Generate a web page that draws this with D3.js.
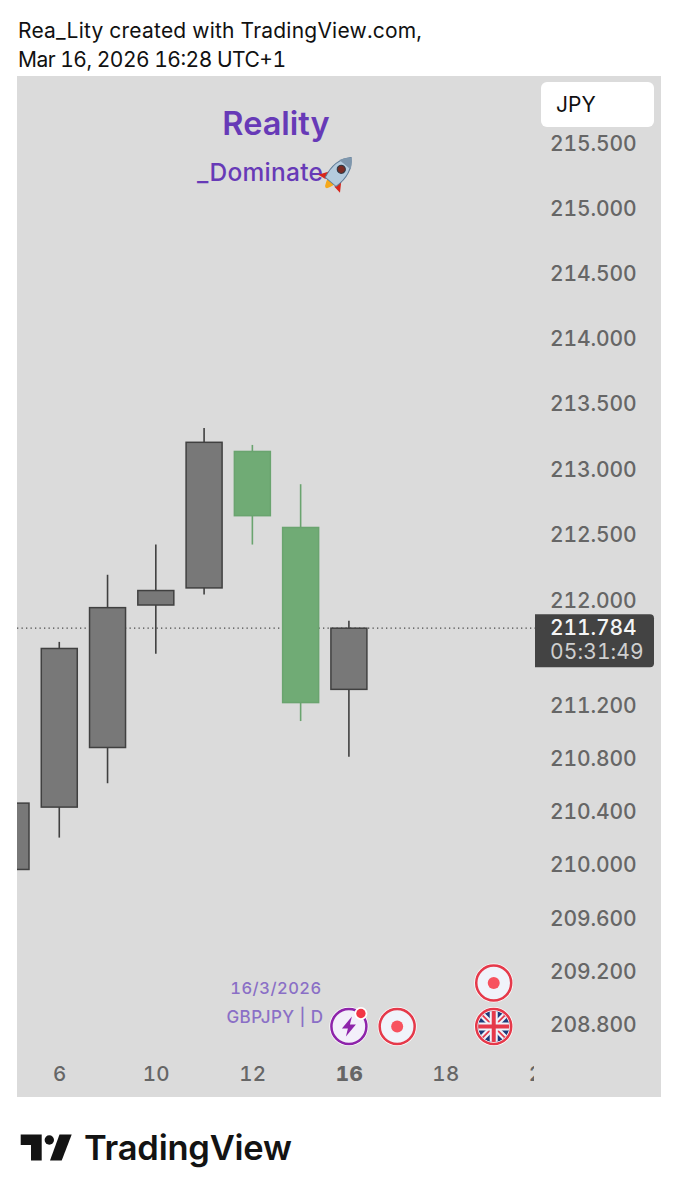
<!DOCTYPE html>
<html><head><meta charset="utf-8">
<script src="https://cdn.jsdelivr.net/npm/d3@7"></script>
<style>html,body{margin:0;padding:0;background:#fff}svg{display:block}text{font-family:Inter,"Noto Sans",sans-serif;font-feature-settings:"tnum" 1}</style>
</head><body><div id="c"></div>
<script>
const days=[5,6,9,10,11,12,13,16,17,18,19,20];
const opens =[209.96,210.43,210.88,211.96,212.09,213.13,212.55,211.784];
const closes=[210.46,211.63,211.94,212.07,213.20,212.64,211.22,211.32];
const highs =[210.50,211.68,212.19,212.42,213.31,213.18,212.88,211.84];
const lows  =[209.90,210.20,210.61,211.59,212.04,212.42,211.08,210.81];
const candleColors=["g","g","g","g","g","t","t","g"];
const priceTicks=[215.5,215,214.5,214,213.5,213,212.5,212,211.2,210.8,210.4,210,209.6,209.2,208.8];
const timeTicks=[6,10,12,16,18,20];
const lastPrice=211.784, countdown="05:31:49";
const eventDays=[16,17,19,19];
const eventTypes=["bolt","dot","dot","flag"];
const eventRows=[0,0,1,0];

const svg=d3.select("#c").append("svg").attr("width",678).attr("height",1200);
const defs=svg.append("defs");
defs.append("clipPath").attr("id","plot").append("rect").attr("x",17).attr("y",76).attr("width",517).attr("height",1021);
defs.append("clipPath").attr("id","flagc").append("circle").attr("r",15.5);

// scales
const y=d3.scaleLog().domain([208.8,215.5]).range([1024,143]);
const x=d3.scaleLinear().domain([0,11]).range([11,542]);
const xd=d=>x(days.indexOf(d));

// header
const hdr=svg.append("g").attr("font-size",21).attr("fill","#111");
hdr.append("text").attr("x",18).attr("y",38).attr("textLength",404).text("Rea_Lity created with TradingView.com,");
hdr.append("text").attr("x",18).attr("y",67).attr("textLength",268).text("Mar 16, 2026 16:28 UTC+1");

// panel
svg.append("rect").attr("x",17).attr("y",76).attr("width",644).attr("height",1021).attr("fill","#dbdbdb");

// watermark
svg.append("text").attr("x",276).attr("y",135).attr("text-anchor","middle").attr("font-size",32.5).attr("font-weight",600).attr("fill","#673ab7").text("Reality");
svg.append("text").attr("x",197).attr("y",181).attr("font-size",24.5).attr("font-weight",500).attr("fill","#673ab7").attr("textLength",126).text("_Dominate");
// rocket (drawn as emoji is unavailable)
const r=svg.append("g").attr("transform","translate(339,172) rotate(40) scale(1.18)");
r.append("path").attr("d","M-6,4 L-12,13 L-5,12 Z M6,4 L12,13 L5,12 Z").attr("fill","#d8261c");
r.append("path").attr("d","M-4,10 Q0,25 4,10 Z").attr("fill","#f6a91b");
r.append("path").attr("d","M0,-16 Q10,-6 6,11 L-6,11 Q-10,-6 0,-16 Z").attr("fill","#b4cbdd").attr("stroke","#5f7c98").attr("stroke-width",.8);
r.append("path").attr("d","M0,-16 Q4.5,-12 6.3,-8 H-6.3 Q-4.5,-12 0,-16 Z").attr("fill","#7f97ad");
r.append("circle").attr("cy",-3).attr("r",3.4).attr("fill","#7a2b22").attr("stroke","#2f3a45").attr("stroke-width",1);

// last price line
svg.append("line").attr("x1",17).attr("x2",535).attr("y1",y(lastPrice)).attr("y2",y(lastPrice))
  .attr("stroke","#4a4a4a").attr("stroke-width",1.2).attr("stroke-dasharray","1.3 3.2");

// candles
const plot=svg.append("g").attr("clip-path","url(#plot)");
const cd=d3.range(opens.length);
const col=i=>candleColors[i]==="g"?{f:"#787878",s:"#404040"}:{f:"#70ab75",s:"#6aa46f"};
const cs=plot.selectAll("g.c").data(cd).join("g").attr("class","c");
cs.append("line").attr("x1",i=>x(i)).attr("x2",i=>x(i)).attr("y1",i=>y(highs[i])).attr("y2",i=>y(lows[i]))
  .attr("stroke",i=>col(i).s).attr("stroke-width",1.6);
cs.append("rect").attr("x",i=>x(i)-18).attr("width",36)
  .attr("y",i=>y(Math.max(opens[i],closes[i])))
  .attr("height",i=>Math.abs(y(opens[i])-y(closes[i])))
  .attr("fill",i=>col(i).f).attr("stroke",i=>col(i).s).attr("stroke-width",1.5);

// price axis
const ya=svg.append("g").attr("transform","translate(550,1)")
  .call(d3.axisRight(y).tickValues(priceTicks).tickSize(0).tickPadding(0).tickFormat(d3.format(".3f")));
ya.select(".domain").remove();
ya.selectAll("text").attr("x",0).attr("font-size",21).attr("letter-spacing","-.1").attr("fill","#666").attr("font-family","Inter").attr("font-weight",500);

// time axis
const xa=svg.append("g").attr("clip-path","url(#plot)").append("g").attr("transform","translate(0,1074)")
  .call(d3.axisBottom(x).tickValues(timeTicks.map(d=>days.indexOf(d))).tickSize(0).tickPadding(0).tickFormat(i=>days[i]));
xa.select(".domain").remove();
xa.selectAll("text").attr("dy",0).attr("y",7).attr("font-size",20.5).attr("letter-spacing",".4").attr("fill","#666").attr("font-family","Inter").attr("font-weight",d=>days[d]===16?800:500);

// JPY box
svg.append("rect").attr("x",541).attr("y",82).attr("width",113).attr("height",45).attr("rx",6).attr("fill","#fff");
svg.append("text").attr("x",556).attr("y",112).attr("font-size",21).attr("fill","#111").text("JPY");

// last price box
const ly=y(lastPrice);
svg.append("path").attr("d",`M535,${ly-14}H650q4,0 4,4V${ly+35}q0,4 -4,4H535Z`).attr("fill","#434343");
svg.append("text").attr("x",550).attr("y",ly+7).attr("font-size",21).attr("letter-spacing","-.1").attr("font-weight",500).attr("fill","#f5f5f5").text(d3.format(".3f")(lastPrice));
svg.append("text").attr("x",550).attr("y",ly+31).attr("font-size",21).attr("letter-spacing",".1").attr("fill","#cfcfcf").text(countdown);

// date/symbol labels
svg.append("text").attr("x",276).attr("y",994).attr("text-anchor","middle").attr("font-size",16.5).attr("letter-spacing",".5").attr("font-weight",500).attr("fill","#8a6fc6").text("16/3/2026");
svg.append("text").attr("x",275).attr("y",1023).attr("text-anchor","middle").attr("font-size",17).attr("letter-spacing",".4").attr("font-weight",500).attr("fill","#8a6fc6").text("GBPJPY | D");

// event icons
const rowY=[1026.5,983];
const ev=svg.selectAll("g.e").data(d3.range(eventDays.length)).join("g").attr("class","e")
  .attr("transform",i=>`translate(${xd(eventDays[i])},${rowY[eventRows[i]]})`);
ev.each(function(i){
  const g=d3.select(this),t=eventTypes[i];
  g.append("circle").attr("r",19.5).attr("fill","#fff");
  if(t==="dot"){
    g.append("circle").attr("r",17.5).attr("fill","#f0f3fa").attr("stroke","#e5394a").attr("stroke-width",2.5);
    g.append("circle").attr("r",6).attr("fill","#f7525f");
  }else if(t==="flag"){
    const f=g.append("g").attr("clip-path","url(#flagc)");
    f.append("circle").attr("r",16).attr("fill","#1f3a7a");
    f.append("path").attr("d","M-16,-16L16,16M16,-16L-16,16").attr("stroke","#f0f3fa").attr("stroke-width",6);
    f.append("path").attr("d","M-16,-16L16,16M16,-16L-16,16").attr("stroke","#e5394a").attr("stroke-width",1.8);
    f.append("path").attr("d","M0,-16V16M-16,0H16").attr("stroke","#f0f3fa").attr("stroke-width",8);
    f.append("path").attr("d","M0,-16V16M-16,0H16").attr("stroke","#e5394a").attr("stroke-width",4);
    g.append("circle").attr("r",17.5).attr("fill","none").attr("stroke","#e5394a").attr("stroke-width",2.5);
  }else{
    g.append("circle").attr("r",17.5).attr("fill","#f3effa").attr("stroke","#8e24aa").attr("stroke-width",2.5);
    g.append("path").attr("d","M3,-10L-7,2H-1L-3,10L7,-2H1Z").attr("fill","#8e24aa");
    g.append("circle").attr("cx",12).attr("cy",-13).attr("r",6.5).attr("fill","#fff");
    g.append("circle").attr("cx",12).attr("cy",-13).attr("r",4.7).attr("fill","#f23645");
  }
});

// logo
const lg=svg.append("g").attr("fill","#131313");
lg.append("path").attr("d","M20.7,1134.5H41.7V1160.5H31V1145H20.7Z");
lg.append("circle").attr("cx",49.3).attr("cy",1140).attr("r",4.7);
lg.append("path").attr("d","M59.5,1134.5H71.7L61.7,1160.5H50Z");
svg.append("text").attr("x",84).attr("y",1160).attr("font-size",34.5).attr("font-weight",600).attr("fill","#131313").attr("textLength",208).text("TradingView");
</script></body></html>
